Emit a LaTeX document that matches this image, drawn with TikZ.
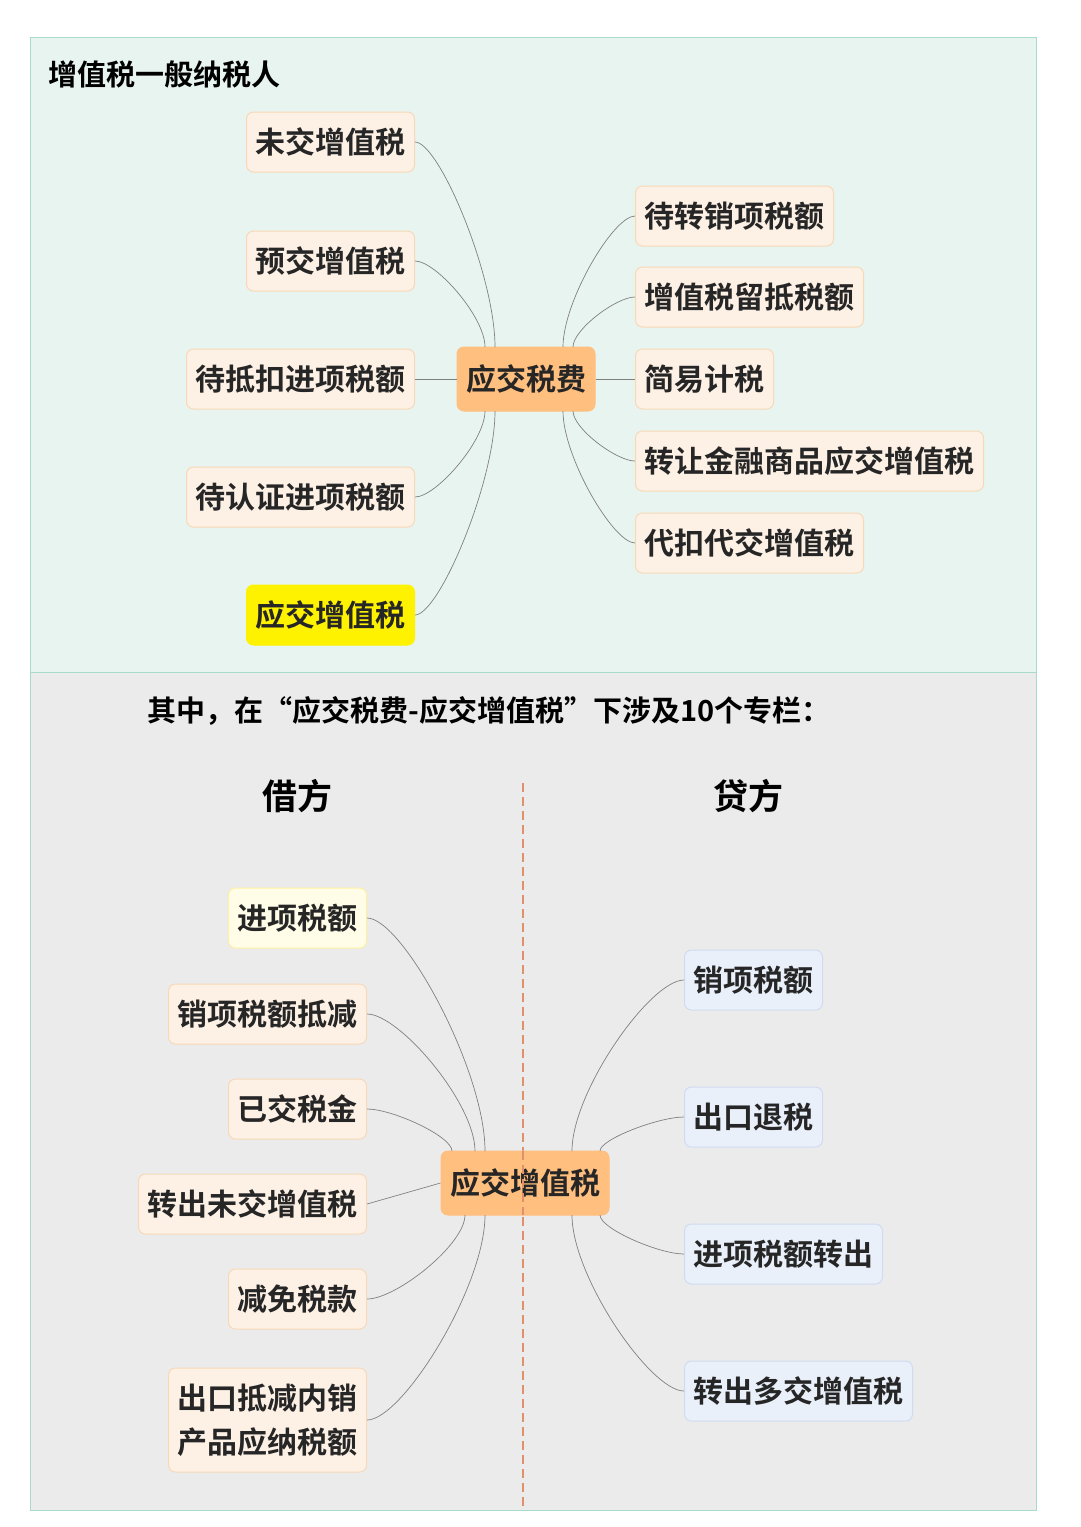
\documentclass[tikz,border=0pt]{standalone}
\usepackage{fontspec}
\setmainfont{Noto Sans CJK SC}[BoldFont={Noto Sans CJK SC Bold}]
\usetikzlibrary{calc}
\definecolor{mint}{HTML}{E8F4EF}
\definecolor{mintb}{HTML}{A8DCC8}
\definecolor{greyp}{HTML}{EBEBEB}
\definecolor{cream}{HTML}{FDF1E6}
\definecolor{creamb}{HTML}{F7D9B8}
\definecolor{hub}{HTML}{FEBF7F}
\definecolor{lyel}{HTML}{FFFDE8}
\definecolor{lyelb}{HTML}{FFF0A0}
\definecolor{lblue}{HTML}{EAF0FA}
\definecolor{lblueb}{HTML}{CFDCF0}
\definecolor{dashc}{HTML}{E0906A}
\tikzset{
 leaf/.style={draw=creamb,fill=cream,rounded corners=7pt,line width=1pt,minimum height=60pt,inner xsep=9pt,font=\fontsize{30}{36}\selectfont\bfseries,text=black!85},
 hubn/.style={leaf,fill=hub,draw=hub,minimum height=64pt},
 yel/.style={leaf,fill=yellow,draw=yellow},
 ly/.style={leaf,fill=lyel,draw=lyelb},
 lb/.style={leaf,fill=lblue,draw=lblueb},
 con/.style={draw=black!50,line width=0.7pt}
}
\newcommand{\cc}[2]{\draw[con] (#1) .. controls ($(#1)!0.35!(#1|-#2)$) and ($(#2)!0.3!(#1|-#2)$) .. (#2);}
\begin{document}
\begin{tikzpicture}[x=1pt,y=-1pt]
\useasboundingbox (0,0) rectangle (1080,1527);
\fill[white] (0,0) rectangle (1080,1527);
\filldraw[fill=mint,draw=mintb,line width=1pt] (30,37) rectangle (1036,672);
\filldraw[fill=greyp,draw=mintb,line width=1pt] (30,672) rectangle (1036,1510);
\node[anchor=west,font=\fontsize{29}{34}\selectfont\bfseries] (title) at (45,74) {增值税一般纳税人};
% top
\node[hubn] (h1) at (526,379) {应交税费};
\node[leaf,anchor=east] (a1) at (415,142) {未交增值税};
\node[leaf,anchor=east] (a2) at (415,261) {预交增值税};
\node[leaf,anchor=east] (a3) at (415,379) {待抵扣进项税额};
\node[leaf,anchor=east] (a4) at (415,497) {待认证进项税额};
\node[yel,anchor=east] (a5) at (415,615) {应交增值税};
\node[leaf,anchor=west] (b1) at (635,216) {待转销项税额};
\node[leaf,anchor=west] (b2) at (635,297) {增值税留抵税额};
\node[leaf,anchor=west] (b3) at (635,379) {简易计税};
\node[leaf,anchor=west] (b4) at (635,461) {转让金融商品应交增值税};
\node[leaf,anchor=west] (b5) at (635,543) {代扣代交增值税};
\coordinate (tl) at (495,347); \coordinate (bl) at (495,411);
\coordinate (tr) at (563,347); \coordinate (br) at (563,411);
\coordinate (tl2) at (485,347); \coordinate (tr2) at (573,347);
\coordinate (bl2) at (485,411); \coordinate (br2) at (573,411);
\cc{tl}{a1.east}\cc{tl2}{a2.east}\draw[con] (h1.west)--(a3.east);
\cc{bl2}{a4.east}\cc{bl}{a5.east}
\cc{tr}{b1.west}\cc{tr2}{b2.west}\draw[con] (h1.east)--(b3.west);
\cc{br2}{b4.west}\cc{br}{b5.west}
% bottom
\node[font=\fontsize{29}{34}\selectfont\bfseries,anchor=west] (sub) at (144,711) {其中，在“应交税费-应交增值税”下涉及10个专栏：};
\node[font=\fontsize{35}{40}\selectfont\bfseries] (jf) at (297,796) {借方};
\node[font=\fontsize{35}{40}\selectfont\bfseries] (df) at (748,796) {贷方};
\coordinate (dt) at (523,783); \coordinate (db) at (523,1510);
\draw[draw=dashc,line width=1.2pt,dash pattern=on 9pt off 5pt] (dt)--(db);
\node[hubn] (h2) at (525,1183) {应交增值税};
\draw[draw=dashc,line width=1.2pt,dash pattern=on 9pt off 5pt] (523,1151)--(523,1215);
\node[ly,anchor=east] (c1) at (367,918) {进项税额};
\node[leaf,anchor=east] (c2) at (367,1014) {销项税额抵减};
\node[leaf,anchor=east] (c3) at (367,1109) {已交税金};
\node[leaf,anchor=east] (c4) at (367,1204) {转出未交增值税};
\node[leaf,anchor=east] (c5) at (367,1299) {减免税款};
\node[leaf,anchor=east,align=left,minimum height=104pt,font=\fontsize{30}{44}\selectfont\bfseries] (c6) at (367,1420) {出口抵减内销\\产品应纳税额};
\node[lb,anchor=west] (d1) at (684,980) {销项税额};
\node[lb,anchor=west] (d2) at (684,1117) {出口退税};
\node[lb,anchor=west] (d3) at (684,1254) {进项税额转出};
\node[lb,anchor=west] (d4) at (684,1391) {转出多交增值税};
\coordinate (p1) at (485,1151); \coordinate (p2) at (475,1151); \coordinate (p3) at (452,1151);
\coordinate (q1) at (485,1215); \coordinate (q2) at (465,1215);
\coordinate (r1) at (572,1151); \coordinate (r2) at (600,1151);
\coordinate (s1) at (572,1215); \coordinate (s2) at (600,1215);
\cc{p1}{c1.east}\cc{p2}{c2.east}\cc{p3}{c3.east}
\draw[con] (h2.west) -- (c4.east);
\cc{q2}{c5.east}\cc{q1}{c6.east}
\cc{r1}{d1.west}\cc{r2}{d2.west}\cc{s2}{d3.west}\cc{s1}{d4.west}
\end{tikzpicture}
\end{document}
